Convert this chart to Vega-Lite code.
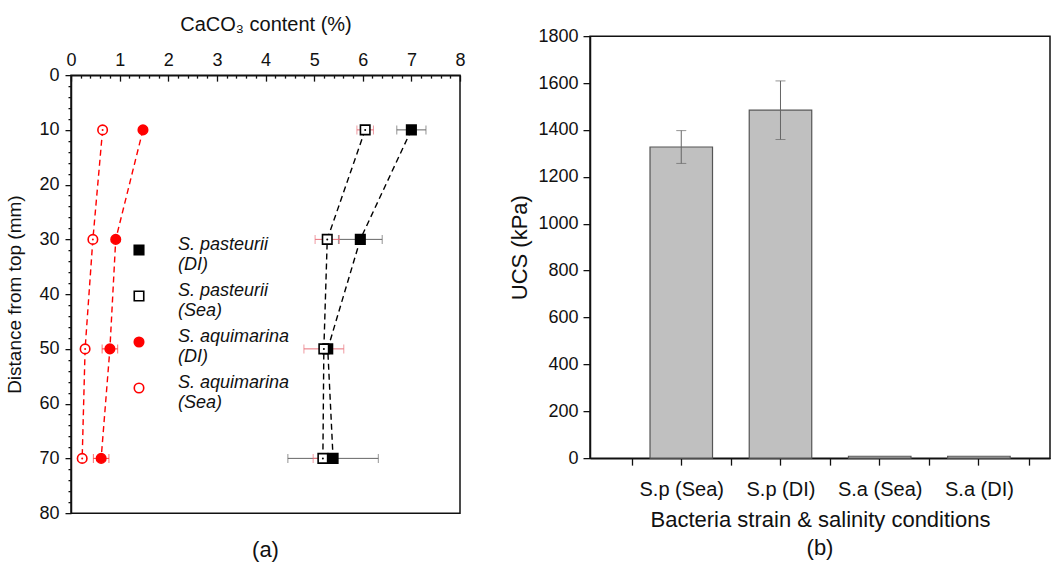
{
  "$schema": "https://vega.github.io/schema/vega-lite/v6.json",
  "background": "white",
  "padding": {"left": 5, "top": 13, "right": 0, "bottom": 0},
  "spacing": 42,
  "center": true,
  "config": {
    "font": "Liberation Sans",
    "view": {"stroke": "#111", "strokeWidth": 1.5},
    "axis": {"labelFont": "Liberation Sans", "titleFont": "Liberation Sans", "labelFontSize": 18, "titleFontSize": 19, "titleFontWeight": "normal", "labelColor": "#111", "titleColor": "#111", "domainColor": "#111", "tickColor": "#111", "domainWidth": 1.5, "tickWidth": 1.3, "grid": false, "labelOverlap": false, "labelFlush": false},
    "title": {"font": "Liberation Sans", "fontSize": 22, "fontWeight": "normal", "color": "#111"}
  },
  "hconcat": [
    {
      "width": 389,
      "height": 438,
      "title": {"text": "(a)", "orient": "bottom", "offset": 18, "frame": "group"},
      "data": {"values": [
        {"series": "S. pasteurii (DI)", "distance": 10, "content": 7.0, "err": 0.3},
        {"series": "S. pasteurii (DI)", "distance": 30, "content": 5.95, "err": 0.45},
        {"series": "S. pasteurii (DI)", "distance": 50, "content": 5.28, "err": 0.05},
        {"series": "S. pasteurii (DI)", "distance": 70, "content": 5.39, "err": 0.93},
        {"series": "S. pasteurii (Sea)", "distance": 10, "content": 6.05, "err": 0.17},
        {"series": "S. pasteurii (Sea)", "distance": 30, "content": 5.27, "err": 0.25},
        {"series": "S. pasteurii (Sea)", "distance": 50, "content": 5.2, "err": 0.41},
        {"series": "S. pasteurii (Sea)", "distance": 70, "content": 5.18, "err": 0.2},
        {"series": "S. aquimarina (DI)", "distance": 10, "content": 1.48, "err": 0.02},
        {"series": "S. aquimarina (DI)", "distance": 30, "content": 0.92, "err": 0.03},
        {"series": "S. aquimarina (DI)", "distance": 50, "content": 0.8, "err": 0.16},
        {"series": "S. aquimarina (DI)", "distance": 70, "content": 0.62, "err": 0.16},
        {"series": "S. aquimarina (Sea)", "distance": 10, "content": 0.65, "err": 0.02},
        {"series": "S. aquimarina (Sea)", "distance": 30, "content": 0.45, "err": 0.02},
        {"series": "S. aquimarina (Sea)", "distance": 50, "content": 0.29, "err": 0.02},
        {"series": "S. aquimarina (Sea)", "distance": 70, "content": 0.23, "err": 0.02}
      ]},
      "encoding": {
        "y": {"field": "distance", "type": "quantitative", "scale": {"domain": [0, 80], "reverse": true, "nice": false},
          "axis": {"title": "Distance from top (mm)", "orient": "left", "values": [0,2,4,6,8,10,12,14,16,18,20,22,24,26,28,30,32,34,36,38,40,42,44,46,48,50,52,54,56,58,60,62,64,66,68,70,72,74,76,78,80],
            "labelExpr": "datum.value % 10 === 0 ? format(datum.value, 'd') : ''",
            "tickSize": {"condition": {"test": "datum.value % 10 === 0", "value": 6}, "value": 3},
            "labelPadding": 6, "titlePadding": 14}},
        "x": {"field": "content", "type": "quantitative", "scale": {"domain": [0, 8], "nice": false},
          "axis": {"title": "CaCO₃ content (%)", "titleFontSize": 20, "orient": "top", "values": [0,0.2,0.4,0.6,0.8,1,1.2,1.4,1.6,1.8,2,2.2,2.4,2.6,2.8,3,3.2,3.4,3.6,3.8,4,4.2,4.4,4.6,4.8,5,5.2,5.4,5.6,5.8,6,6.2,6.4,6.6,6.8,7,7.2,7.4,7.6,7.8,8],
            "labelExpr": "abs(datum.value - round(datum.value)) < 0.001 ? format(round(datum.value), 'd') : ''",
            "tickSize": {"condition": {"test": "abs(datum.value - round(datum.value)) < 0.001", "value": -6}, "value": -3},
            "labelPadding": 12, "titlePadding": 14}}
      },
      "layer": [
        {
          "transform": [{"filter": "datum.series === 'S. pasteurii (DI)'"}],
          "mark": {"type": "errorbar", "color": "#666666", "ticks": {"size": 9, "thickness": 1}, "thickness": 1},
          "encoding": {"xError": {"field": "err"}}
        },
        {
          "transform": [{"filter": "datum.series === 'S. pasteurii (Sea)'"}],
          "mark": {"type": "errorbar", "color": "#e8707a", "ticks": {"size": 9, "thickness": 1}, "thickness": 1},
          "encoding": {"xError": {"field": "err"}}
        },
        {
          "transform": [{"filter": "indexof(datum.series, 'aquimarina') >= 0"}],
          "mark": {"type": "errorbar", "color": "#ff3030", "ticks": {"size": 9, "thickness": 1}, "thickness": 1},
          "encoding": {"xError": {"field": "err"}}
        },
        {
          "transform": [{"filter": "indexof(datum.series, 'pasteurii') >= 0"}],
          "mark": {"type": "line", "color": "#000000", "strokeDash": [6, 4], "strokeWidth": 1.4},
          "encoding": {
            "order": {"field": "distance", "type": "quantitative"},
            "detail": {"field": "series", "type": "nominal"}
          }
        },
        {
          "transform": [{"filter": "indexof(datum.series, 'aquimarina') >= 0"}],
          "mark": {"type": "line", "color": "#ff0000", "strokeDash": [6, 4], "strokeWidth": 1.4},
          "encoding": {
            "order": {"field": "distance", "type": "quantitative"},
            "detail": {"field": "series", "type": "nominal"}
          }
        },
        {
          "mark": {"type": "point", "size": 90, "strokeWidth": 1.6, "opacity": 1},
          "encoding": {
            "color": {"field": "series", "type": "nominal", "title": null,
              "scale": {"domain": ["S. pasteurii (DI)", "S. pasteurii (Sea)", "S. aquimarina (DI)", "S. aquimarina (Sea)"], "range": ["#000000", "#000000", "#ff0000", "#ff0000"]},
              "legend": {"orient": "none", "legendX": 59, "legendY": 205, "labelExpr": "[slice(datum.label, 0, indexof(datum.label, ' (')), slice(datum.label, indexof(datum.label, ' (') + 1)]",
                "labelFont": "Liberation Sans", "labelFontSize": 18, "labelFontStyle": "italic", "labelColor": "#111", "labelBaseline": "alphabetic", "rowPadding": 8, "symbolSize": 90, "symbolStrokeWidth": 1.6, "labelOffset": 30, "labelLimit": 0, "padding": 0}},
            "shape": {"field": "series", "type": "nominal", "title": null,
              "scale": {"domain": ["S. pasteurii (DI)", "S. pasteurii (Sea)", "S. aquimarina (DI)", "S. aquimarina (Sea)"], "range": ["square", "square", "circle", "circle"]}},
            "fill": {"field": "series", "type": "nominal", "title": null,
              "scale": {"domain": ["S. pasteurii (DI)", "S. pasteurii (Sea)", "S. aquimarina (DI)", "S. aquimarina (Sea)"], "range": ["#000000", "#ffffff", "#ff0000", "#ffffff"]}}
          }
        },
        {
          "transform": [{"filter": "datum.series === 'S. pasteurii (Sea)'"}],
          "mark": {"type": "circle", "size": 4, "color": "#000000", "opacity": 1}
        },
        {
          "transform": [{"filter": "datum.series === 'S. aquimarina (Sea)'"}],
          "mark": {"type": "circle", "size": 4, "color": "#ff0000", "opacity": 1}
        }
      ]
    },
    {
      "width": 460,
      "height": 422,
      "title": {"text": "(b)", "subtitle": " ", "subtitleFontSize": 24, "subtitlePadding": 16, "orient": "bottom", "offset": 8, "frame": "group"},
      "data": {"values": [
        {"cat": "S.p (Sea)", "ucs": 1327, "err": 70},
        {"cat": "S.p (DI)", "ucs": 1484, "err": 125},
        {"cat": "S.a (Sea)", "ucs": 8, "err": 0},
        {"cat": "S.a (DI)", "ucs": 8, "err": 0}
      ]},
      "resolve": {"axis": {"x": "independent"}},
      "layer": [
        {
          "mark": {"type": "bar", "fill": "#c0c0c0", "stroke": "#555555", "strokeWidth": 1.2, "width": {"band": 0.63}},
          "encoding": {
            "x": {"field": "cat", "type": "nominal", "sort": null,
              "scale": {"domain": ["S.p (Sea)", "S.p (DI)", "S.a (Sea)", "S.a (DI)"], "paddingInner": 0, "paddingOuter": 0.318, "align": 0.66},
              "axis": {"orient": "bottom", "tickBand": "extent", "labelAngle": 0, "labelFontSize": 20, "tickSize": 7, "labelPadding": 14,
                "title": "Bacteria strain & salinity conditions", "titleFontSize": 22, "titlePadding": 10}},
            "y": {"field": "ucs", "type": "quantitative", "scale": {"domain": [0, 1800], "nice": false},
              "axis": {"title": "UCS (kPa)", "titleFontSize": 22, "values": [0,50,100,150,200,250,300,350,400,450,500,550,600,650,700,750,800,850,900,950,1000,1050,1100,1150,1200,1250,1300,1350,1400,1450,1500,1550,1600,1650,1700,1750,1800],
                "labelExpr": "datum.value % 200 === 0 ? format(datum.value, 'd') : ''",
                "tickSize": {"condition": {"test": "datum.value % 200 === 0", "value": 7}, "value": 4},
                "labelPadding": 5, "titlePadding": 6}}
          }
        },
        {
          "transform": [{"filter": "datum.err > 0"}],
          "mark": {"type": "errorbar", "color": "#666666", "thickness": 1, "ticks": {"size": 10, "thickness": 1}},
          "encoding": {
            "x": {"field": "cat", "type": "nominal", "sort": null,
              "axis": {"orient": "bottom", "tickBand": "center", "labels": false, "domain": false, "tickSize": 7, "title": null}},
            "y": {"field": "ucs", "type": "quantitative", "title": "UCS (kPa)"},
            "yError": {"field": "err"}
          }
        }
      ]
    }
  ]
}
